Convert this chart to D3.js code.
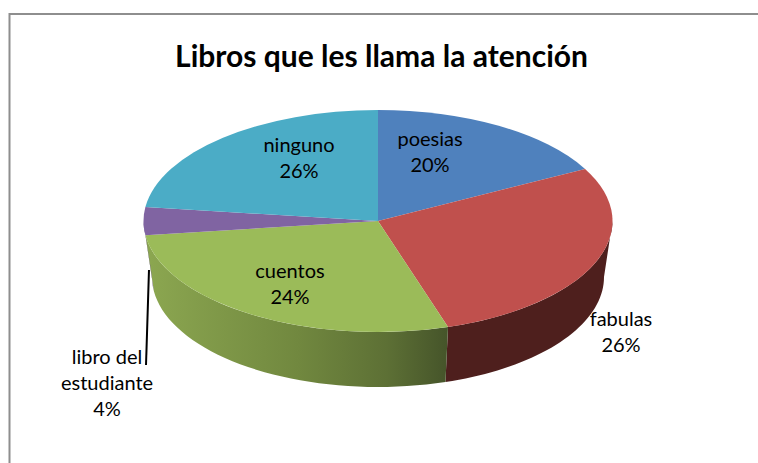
<!DOCTYPE html>
<html>
<head>
<meta charset="utf-8">
<script src="https://cdn.jsdelivr.net/npm/d3@7"></script>
<style>
  html, body { margin: 0; padding: 0; background: #fff; }
  svg { display: block; }
  text { font-family: Lato, "Open Sans", sans-serif; fill: #000; }
</style>
</head>
<body>
<div id="chart-area"></div>
<script>
const titleText = "Libros que les llama la atención"
const categories = ["poesias", "fabulas", "cuentos", "libro del estudiante", "ninguno"]
const percents = [20, 26, 24, 4, 26]
const colors = ["#4f81bd", "#c0504d", "#9bbb59", "#8064a2", "#4bacc6"]
const wallColors = ["#3a5f8c", "#4e1f1d", "url(#greenWall)", "#6a5488", "#37808f"]

const svgWidth = 758
const svgHeight = 463

// top face and bottom rim of the tilted pie
const top_ = { cx: 378, cy: 221, rx: 234.5, ry: 111 }
const bottom = { cx: 378, cy: 277, rx: 226, ry: 110 }

// excel's 3d perspective squeezes the back of the pie, this undoes the plain angle
const perspective = 0.827
const warp = a => {
    const half = a / 2
    if (Math.abs(half - Math.PI / 2) < 1e-6) return a
    let w = 2 * Math.atan(perspective * Math.tan(half))
    if (w < 0) w += 2 * Math.PI
    if (a >= 2 * Math.PI - 1e-6) w = 2 * Math.PI
    return w
}

const svg = d3.select("#chart-area")
    .append("svg")
    .attr("width", svgWidth)
    .attr("height", svgHeight)

// shading on the front of the green slice
const grad = svg.append("defs").append("linearGradient")
    .attr("id", "greenWall")
    .attr("gradientUnits", "userSpaceOnUse")
    .attr("x1", 150).attr("x2", 446).attr("y1", 0).attr("y2", 0)
grad.selectAll("stop")
    .data([[0, "#8ba650"], [0.5, "#71883f"], [0.8, "#5d7035"], [1, "#46552a"]])
    .join("stop")
    .attr("offset", d => d[0])
    .attr("stop-color", d => d[1])

// frame
svg.append("path")
    .attr("d", `M9.5,${svgHeight} V14 H${svgWidth}`)
    .attr("fill", "none")
    .attr("stroke", "#8e8e8e")
    .attr("stroke-width", 2)

svg.append("text")
    .attr("x", 381.5)
    .attr("y", 67)
    .attr("text-anchor", "middle")
    .attr("font-size", 30)
    .attr("font-weight", 700)
    .text(titleText)

const pie = d3.pie().sort(null).value(d => d)
const slices = pie(percents).map((d, i) => ({
    i,
    start: warp(d.startAngle),
    end: warp(d.endAngle)
}))

// side walls, only the part facing the viewer (90deg to 270deg)
const rimLine = d3.line()
const wallPath = (a0, a1) => {
    const steps = d3.range(0, 41).map(k => a0 + (a1 - a0) * k / 40)
    const upper = steps.map(a => [top_.cx + top_.rx * Math.sin(a), top_.cy - top_.ry * Math.cos(a)])
    const lower = steps.slice().reverse().map(a => [bottom.cx + bottom.rx * Math.sin(a), bottom.cy - bottom.ry * Math.cos(a)])
    return rimLine(upper.concat(lower)) + "Z"
}

const walls = slices
    .map(s => ({ i: s.i, a0: Math.max(s.start, Math.PI / 2), a1: Math.min(s.end, 3 * Math.PI / 2) }))
    .filter(s => s.a1 > s.a0)

svg.append("g").selectAll("path")
    .data(walls)
    .join("path")
    .attr("d", d => wallPath(d.a0, d.a1))
    .attr("fill", d => wallColors[d.i])

// top face
const arc = d3.arc().innerRadius(0).outerRadius(top_.rx)
svg.append("g")
    .attr("transform", `translate(${top_.cx},${top_.cy}) scale(1,${top_.ry / top_.rx})`)
    .selectAll("path")
    .data(slices)
    .join("path")
    .attr("d", d => arc({ startAngle: d.start, endAngle: d.end }))
    .attr("fill", d => colors[d.i])

// leader line for the small slice
svg.append("line")
    .attr("x1", 149).attr("y1", 270)
    .attr("x2", 146).attr("y2", 365)
    .attr("stroke", "#000")
    .attr("stroke-width", 2)

// data labels
const labelPos = [
    { x: 430, y: 146, lines: ["poesias"] },
    { x: 621, y: 326, lines: ["fabulas"] },
    { x: 290, y: 278, lines: ["cuentos"] },
    { x: 107, y: 364, lines: ["libro del", "estudiante"] },
    { x: 299, y: 152, lines: ["ninguno"] }
]
const lineGap = 26

const labels = svg.append("g").selectAll("text")
    .data(labelPos)
    .join("text")
    .attr("text-anchor", "middle")
    .attr("font-size", 20)
    .attr("transform", d => `translate(${d.x},${d.y})`)

labels.selectAll("tspan")
    .data((d, i) => d.lines.concat([percents[i] + "%"]))
    .join("tspan")
    .attr("x", 0)
    .attr("y", (d, i) => i * lineGap)
    .text(d => d)
</script>
</body>
</html>
